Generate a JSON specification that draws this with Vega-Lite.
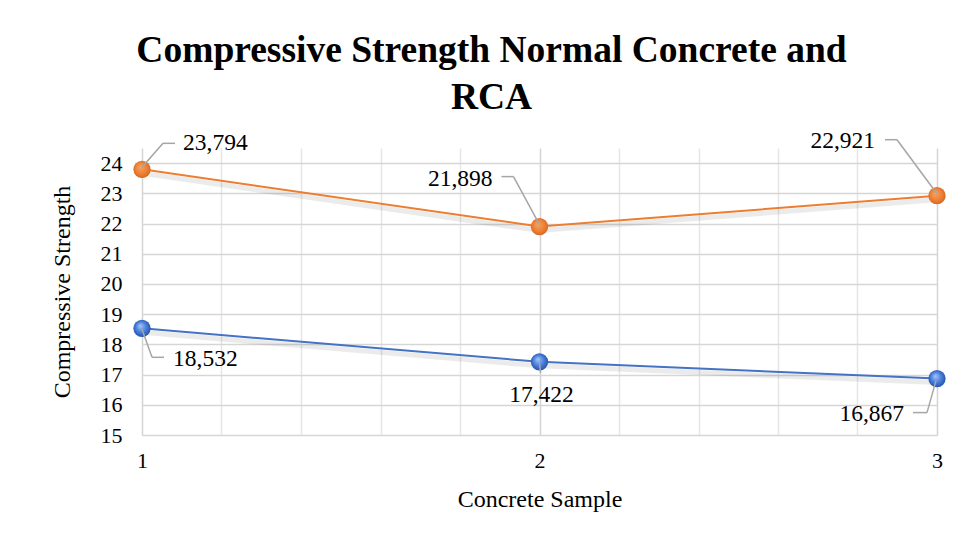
{
  "$schema": "https://vega.github.io/schema/vega-lite/v6.json",
  "width": 795,
  "height": 287,
  "autosize": {"type": "none"},
  "padding": {"left": 142, "top": 148, "right": 22, "bottom": 106},
  "background": "white",
  "title": {
    "text": ["Compressive Strength Normal Concrete and", "RCA"],
    "font": "Liberation Serif",
    "fontSize": 37.5,
    "fontWeight": "bold",
    "color": "black",
    "anchor": "middle",
    "dx": -48,
    "offset": 12,
    "lineHeight": 47
  },
  "data": {
    "values": [
      {"series": "Normal Concrete", "sample": 1, "strength": 23.794},
      {"series": "Normal Concrete", "sample": 2, "strength": 21.898},
      {"series": "Normal Concrete", "sample": 3, "strength": 22.921},
      {"series": "RCA", "sample": 1, "strength": 18.532},
      {"series": "RCA", "sample": 2, "strength": 17.422},
      {"series": "RCA", "sample": 3, "strength": 16.867}
    ]
  },
  "encoding": {
    "x": {
      "field": "sample",
      "type": "quantitative",
      "scale": {"domain": [1, 3], "nice": false, "zero": false},
      "axis": {
        "title": "Concrete Sample",
        "values": [1, 1.2, 1.4, 1.6, 1.8, 2, 2.2, 2.4, 2.6, 2.8, 3],
        "labelExpr": "abs(datum.value - round(datum.value)) < 0.01 ? format(round(datum.value), 'd') : ''",
        "labelFlush": false,
        "domain": false,
        "ticks": false,
        "grid": true,
        "gridColor": {"condition": {"test": "abs(datum.value - round(datum.value)) < 0.01", "value": "#d4d4d4"}, "value": "#e6e6e6"},
        "gridWidth": 1.5,
        "labelFont": "Liberation Serif",
        "labelFontSize": 22,
        "labelColor": "black",
        "labelPadding": 15,
        "titleFont": "Liberation Serif",
        "titleFontSize": 24,
        "titleFontWeight": "normal",
        "titleColor": "black",
        "titlePadding": 16
      }
    },
    "y": {
      "field": "strength",
      "type": "quantitative",
      "scale": {"domain": [15, 24.5], "nice": false, "zero": false},
      "axis": {
        "title": "Compressive Strength",
        "values": [15, 16, 17, 18, 19, 20, 21, 22, 23, 24],
        "domain": false,
        "ticks": false,
        "grid": true,
        "gridColor": "#d6d6d6",
        "gridWidth": 1.5,
        "labelFont": "Liberation Serif",
        "labelFontSize": 22,
        "labelColor": "black",
        "labelPadding": 20,
        "titleFont": "Liberation Serif",
        "titleFontSize": 24,
        "titleFontWeight": "normal",
        "titleColor": "black",
        "titlePadding": 26
      }
    }
  },
  "layer": [
    {
      "mark": {"type": "line", "color": "black", "opacity": 0.08, "strokeWidth": 5, "yOffset": 4},
      "encoding": {"detail": {"field": "series"}}
    },
    {
      "mark": {"type": "line", "strokeWidth": 2},
      "encoding": {
        "color": {
          "field": "series",
          "type": "nominal",
          "scale": {"domain": ["Normal Concrete", "RCA"], "range": ["#ED7D31", "#4472C4"]},
          "legend": null
        }
      }
    },
    {
      "transform": [{"filter": "datum.series == 'Normal Concrete'"}],
      "mark": {
        "type": "point",
        "shape": "circle",
        "filled": true,
        "size": 300,
        "opacity": 1,
        "color": {
          "gradient": "radial",
          "x1": 0.4, "y1": 0.35, "r1": 0,
          "x2": 0.5, "y2": 0.5, "r2": 0.6,
          "stops": [
            {"offset": 0, "color": "#f5a468"},
            {"offset": 0.6, "color": "#ED7D31"},
            {"offset": 1, "color": "#c4601c"}
          ]
        }
      }
    },
    {
      "transform": [{"filter": "datum.series == 'RCA'"}],
      "mark": {
        "type": "point",
        "shape": "circle",
        "filled": true,
        "size": 300,
        "opacity": 1,
        "color": {
          "gradient": "radial",
          "x1": 0.4, "y1": 0.35, "r1": 0,
          "x2": 0.5, "y2": 0.5, "r2": 0.6,
          "stops": [
            {"offset": 0, "color": "#a9c6f5"},
            {"offset": 0.5, "color": "#4a7fdc"},
            {"offset": 1, "color": "#1d469c"}
          ]
        }
      }
    },
    {
      "transform": [{"filter": "datum.series == 'Normal Concrete' && datum.sample == 1"}],
      "layer": [
        {"mark": {"type": "rule", "color": "#a6a6a6", "strokeWidth": 1.5, "xOffset": 0, "yOffset": -2, "x2Offset": 21, "y2Offset": -26}, "encoding": {"x2": {"field": "sample"}, "y2": {"field": "strength"}}},
        {"mark": {"type": "rule", "color": "#a6a6a6", "strokeWidth": 1.5, "xOffset": 21, "yOffset": -26, "x2Offset": 33, "y2Offset": -26}, "encoding": {"x2": {"field": "sample"}, "y2": {"field": "strength"}}},
        {"mark": {"type": "text", "align": "left", "baseline": "middle", "dx": 41, "dy": -26, "font": "Liberation Serif", "fontSize": 23.5, "color": "black"}, "encoding": {"text": {"field": "strength", "type": "quantitative", "format": ".3f"}}}
      ]
    },
    {
      "transform": [{"filter": "datum.series == 'Normal Concrete' && datum.sample == 2"}],
      "layer": [
        {"mark": {"type": "rule", "color": "#a6a6a6", "strokeWidth": 1.5, "xOffset": 0, "yOffset": -2, "x2Offset": -26, "y2Offset": -50}, "encoding": {"x2": {"field": "sample"}, "y2": {"field": "strength"}}},
        {"mark": {"type": "rule", "color": "#a6a6a6", "strokeWidth": 1.5, "xOffset": -26, "yOffset": -50, "x2Offset": -38, "y2Offset": -50}, "encoding": {"x2": {"field": "sample"}, "y2": {"field": "strength"}}},
        {"mark": {"type": "text", "align": "right", "baseline": "middle", "dx": -47, "dy": -48, "font": "Liberation Serif", "fontSize": 23.5, "color": "black"}, "encoding": {"text": {"field": "strength", "type": "quantitative", "format": ".3f"}}}
      ]
    },
    {
      "transform": [{"filter": "datum.series == 'Normal Concrete' && datum.sample == 3"}],
      "layer": [
        {"mark": {"type": "rule", "color": "#a6a6a6", "strokeWidth": 1.5, "xOffset": 0, "yOffset": -2, "x2Offset": -40, "y2Offset": -56}, "encoding": {"x2": {"field": "sample"}, "y2": {"field": "strength"}}},
        {"mark": {"type": "rule", "color": "#a6a6a6", "strokeWidth": 1.5, "xOffset": -40, "yOffset": -56, "x2Offset": -52, "y2Offset": -56}, "encoding": {"x2": {"field": "sample"}, "y2": {"field": "strength"}}},
        {"mark": {"type": "text", "align": "right", "baseline": "middle", "dx": -62, "dy": -55, "font": "Liberation Serif", "fontSize": 23.5, "color": "black"}, "encoding": {"text": {"field": "strength", "type": "quantitative", "format": ".3f"}}}
      ]
    },
    {
      "transform": [{"filter": "datum.series == 'RCA' && datum.sample == 1"}],
      "layer": [
        {"mark": {"type": "rule", "color": "#a6a6a6", "strokeWidth": 1.5, "xOffset": 0, "yOffset": 1, "x2Offset": 10, "y2Offset": 29}, "encoding": {"x2": {"field": "sample"}, "y2": {"field": "strength"}}},
        {"mark": {"type": "rule", "color": "#a6a6a6", "strokeWidth": 1.5, "xOffset": 10, "yOffset": 29, "x2Offset": 22, "y2Offset": 29}, "encoding": {"x2": {"field": "sample"}, "y2": {"field": "strength"}}},
        {"mark": {"type": "text", "align": "left", "baseline": "middle", "dx": 31, "dy": 31, "font": "Liberation Serif", "fontSize": 23.5, "color": "black"}, "encoding": {"text": {"field": "strength", "type": "quantitative", "format": ".3f"}}}
      ]
    },
    {
      "transform": [{"filter": "datum.series == 'RCA' && datum.sample == 2"}],
      "layer": [
        {"mark": {"type": "rule", "color": "#a6a6a6", "strokeWidth": 1.5, "xOffset": 0, "yOffset": 1, "x2Offset": 1, "y2Offset": 11}, "encoding": {"x2": {"field": "sample"}, "y2": {"field": "strength"}}},
        {"mark": {"type": "text", "align": "center", "baseline": "middle", "dx": 2, "dy": 33, "font": "Liberation Serif", "fontSize": 23.5, "color": "black"}, "encoding": {"text": {"field": "strength", "type": "quantitative", "format": ".3f"}}}
      ]
    },
    {
      "transform": [{"filter": "datum.series == 'RCA' && datum.sample == 3"}],
      "layer": [
        {"mark": {"type": "rule", "color": "#a6a6a6", "strokeWidth": 1.5, "xOffset": -1, "yOffset": 2, "x2Offset": -10, "y2Offset": 34}, "encoding": {"x2": {"field": "sample"}, "y2": {"field": "strength"}}},
        {"mark": {"type": "rule", "color": "#a6a6a6", "strokeWidth": 1.5, "xOffset": -10, "yOffset": 34, "x2Offset": -24, "y2Offset": 34}, "encoding": {"x2": {"field": "sample"}, "y2": {"field": "strength"}}},
        {"mark": {"type": "text", "align": "right", "baseline": "middle", "dx": -33, "dy": 35, "font": "Liberation Serif", "fontSize": 23.5, "color": "black"}, "encoding": {"text": {"field": "strength", "type": "quantitative", "format": ".3f"}}}
      ]
    }
  ],
  "config": {
    "view": {"stroke": null},
    "locale": {
      "number": {"decimal": ",", "thousands": ".", "grouping": [3], "currency": ["", ""]}
    }
  }
}
